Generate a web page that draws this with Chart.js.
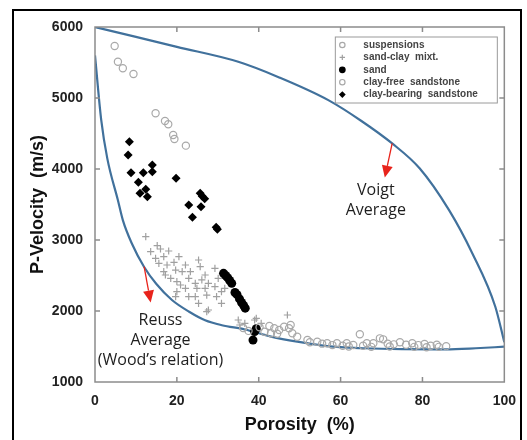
<!DOCTYPE html>
<html>
<head>
<meta charset="utf-8">
<script src="https://cdn.jsdelivr.net/npm/chart.js@4.4.1/dist/chart.umd.min.js"></script>
<style>
  html, body { margin: 0; padding: 0; background: #fff; }
</style>
</head>
<body>
<canvas id="vpChart" width="527" height="440"></canvas>
<script>
// ---- data (porosity %, P-velocity m/s) ----
const porosityTicks = [0, 20, 40, 60, 80, 100];
const velocityTicks = [1000, 2000, 3000, 4000, 5000, 6000];

const voigtCurve = [
  [0, 6000], [10, 5860], [20, 5720], [35, 5510], [45, 5290], [57, 4970],
  [65, 4680], [72.6, 4360], [79.3, 4010], [86.5, 3420], [92.2, 2810],
  [97.8, 2060], [100, 1560]
];

const reussCurve = [
  [0, 5600], [1.5, 4700], [3, 4150], [5.6, 3560], [6.8, 3280], [9, 2950],
  [12, 2620], [15, 2380], [18.8, 2155], [23, 1990], [26.9, 1870], [31, 1800],
  [36.6, 1740], [43, 1640], [49.4, 1568], [56.7, 1505], [65.6, 1475],
  [75, 1462], [85.7, 1460], [93, 1475], [100, 1497]
];

const suspensionPoints = [
  [36.2, 1760], [37.5, 1720], [40.2, 1770], [41.4, 1708], [42.6, 1789], [43.0, 1686],
  [43.8, 1756], [44.5, 1680], [45.0, 1732], [46.2, 1779], [47.4, 1756], [47.8, 1803],
  [48.2, 1686], [49.4, 1638], [51.9, 1592], [52.5, 1560], [54.3, 1568], [55.5, 1540],
  [56.7, 1545], [58, 1520], [59.1, 1545], [60.5, 1510], [61.5, 1545], [62, 1500],
  [63.1, 1521], [64.7, 1672], [65.5, 1510], [66.4, 1545], [67.5, 1495], [68.0, 1545],
  [69.6, 1615], [70.4, 1601], [71.5, 1540], [72, 1500], [73, 1530], [74.5, 1560],
  [76, 1525], [77.5, 1545], [78, 1495], [79, 1520], [80.5, 1535], [81, 1490],
  [82, 1510], [83.5, 1525], [84, 1495], [85.8, 1505]
];

const sandClayPoints = [
  [12.4, 3047], [15.2, 2920], [13.6, 2835], [16.0, 2873], [18.0, 2845], [14.8, 2742],
  [16.8, 2765], [20.5, 2765], [15.6, 2672], [17.6, 2648], [19.3, 2686], [22.1, 2648],
  [25.3, 2718], [25.7, 2624], [16.8, 2554], [19.7, 2577], [21.3, 2554], [23.3, 2554],
  [26.9, 2507], [29.3, 2601], [18.5, 2460], [20.0, 2413], [20.9, 2366], [22.9, 2460],
  [24.5, 2390], [26.1, 2437], [27.7, 2390], [30.1, 2460], [20.0, 2272], [22.1, 2320],
  [24.9, 2320], [26.9, 2320], [29.3, 2343], [30.9, 2272], [22.9, 2202], [24.5, 2202],
  [27.3, 2225], [29.7, 2202], [31.7, 2320], [27.7, 2014], [17.2, 2507], [19.7, 2202],
  [25.3, 2108], [27.3, 1990], [30.9, 2108], [35.0, 1873], [36.6, 1827], [39.0, 1873],
  [40.6, 1827], [39.4, 1897], [47.0, 1944], [35.4, 1803]
];

const sandPoints = [
  [31.4, 2530], [31.9, 2500], [32.4, 2470], [32.9, 2430], [33.4, 2390], [34.2, 2260],
  [34.7, 2230], [35.3, 2170], [35.8, 2120], [36.3, 2080], [36.7, 2040], [39.4, 1750],
  [39.0, 1710], [38.6, 1590]
];

const clayFreePoints = [
  [4.8, 5732], [5.6, 5511], [6.8, 5418], [9.4, 5338], [14.8, 4785], [17.1, 4676],
  [17.9, 4630], [19.1, 4479], [19.4, 4423], [22.2, 4329]
];

const clayBearingPoints = [
  [8.4, 4385], [8.1, 4197], [8.8, 3948], [11.8, 3948], [14.0, 4056], [14.0, 3962],
  [10.6, 3813], [12.4, 3714], [11.0, 3657], [12.8, 3610], [19.8, 3869], [25.7, 3657],
  [26.2, 3615], [26.8, 3580], [22.9, 3493], [25.9, 3469], [23.8, 3320], [29.6, 3180],
  [29.9, 3150]
];

// annotation anchors (data units): arrow start, arrow tip, text centre
const voigtArrow = [[72.6, 4360], [70.8, 3880]];
const voigtLabel = { at: [68.6, 3694], lines: ['Voigt', 'Average'] };
const reussArrow = [[12.0, 2624], [13.6, 2120]];
const reussLabel = { at: [16.0, 1873], lines: ['Reuss', 'Average', '(Wood\u2019s relation)'] };

const toXY = pts => pts.map(p => ({ x: p[0], y: p[1] }));

const openCircle = {
  pointStyle: 'circle', pointRadius: 3.6, borderWidth: 1.2,
  borderColor: '#a9a9a9', backgroundColor: 'rgba(255,255,255,0)'
};

const datasets = [
  Object.assign({ label: 'suspensions', data: toXY(suspensionPoints) }, openCircle),
  {
    label: 'sand-clay  mixt.', data: toXY(sandClayPoints), pointStyle: 'cross',
    pointRadius: 3.6, borderWidth: 1.2, borderColor: '#a0a0a0', backgroundColor: '#a0a0a0'
  },
  {
    label: 'sand', data: toXY(sandPoints), pointStyle: 'circle',
    pointRadius: 4.5, borderWidth: 0, backgroundColor: '#000', borderColor: '#000'
  },
  Object.assign({ label: 'clay-free  sandstone', data: toXY(clayFreePoints) }, openCircle),
  {
    label: 'clay-bearing  sandstone', data: toXY(clayBearingPoints), pointStyle: 'rectRot',
    pointRadius: 4.5, borderWidth: 0, backgroundColor: '#000', borderColor: '#000'
  },
  {
    label: 'Voigt', data: toXY(voigtCurve), showLine: true, pointRadius: 0,
    borderColor: '#41719c', borderWidth: 2.2, cubicInterpolationMode: 'monotone', noLegend: true
  },
  {
    label: 'Reuss', data: toXY(reussCurve), showLine: true, pointRadius: 0,
    borderColor: '#41719c', borderWidth: 2.2, cubicInterpolationMode: 'monotone', noLegend: true
  }
];

function drawArrow(c, x0, y0, x1, y1) {
  const ang = Math.atan2(y1 - y0, x1 - x0);
  const head = 12, half = 5.5;
  c.strokeStyle = '#e8231b';
  c.fillStyle = '#e8231b';
  c.lineWidth = 1.3;
  c.beginPath();
  c.moveTo(x0, y0);
  c.lineTo(x1 - head * Math.cos(ang), y1 - head * Math.sin(ang));
  c.stroke();
  c.beginPath();
  c.moveTo(x1, y1);
  c.lineTo(x1 - head * Math.cos(ang) + half * Math.sin(ang), y1 - head * Math.sin(ang) - half * Math.cos(ang));
  c.lineTo(x1 - head * Math.cos(ang) - half * Math.sin(ang), y1 - head * Math.sin(ang) + half * Math.cos(ang));
  c.closePath();
  c.fill();
}

const decorations = {
  id: 'decorations',
  beforeDraw(chart) {
    const c = chart.ctx;
    c.save();
    c.fillStyle = '#fff';
    c.fillRect(0, 0, chart.width, chart.height);
    // outer figure frame
    c.strokeStyle = '#000';
    c.lineWidth = 2;
    c.beginPath();
    c.moveTo(13, chart.height);
    c.lineTo(13, 10);
    c.lineTo(521, 10);
    c.lineTo(521, chart.height);
    c.stroke();
    c.restore();
  },
  afterDatasetsDraw(chart) {
    const c = chart.ctx;
    const a = chart.chartArea;
    const xs = chart.scales.x, ys = chart.scales.y;
    c.save();

    // plot frame + inward ticks on all four sides
    c.strokeStyle = '#8c8c8c';
    c.lineWidth = 1.5;
    c.strokeRect(a.left, a.top, a.right - a.left, a.bottom - a.top);
    c.beginPath();
    porosityTicks.slice(1, -1).forEach(v => {
      const px = xs.getPixelForValue(v);
      c.moveTo(px, a.bottom); c.lineTo(px, a.bottom - 5);
      c.moveTo(px, a.top); c.lineTo(px, a.top + 5);
    });
    velocityTicks.slice(1, -1).forEach(v => {
      const py = ys.getPixelForValue(v);
      c.moveTo(a.left, py); c.lineTo(a.left + 5, py);
      c.moveTo(a.right, py); c.lineTo(a.right - 5, py);
    });
    c.stroke();

    // arrows and labels
    const P = p => [xs.getPixelForValue(p[0]), ys.getPixelForValue(p[1])];
    [[voigtArrow, voigtLabel], [reussArrow, reussLabel]].forEach(([arr, lab]) => {
      const s = P(arr[0]), t = P(arr[1]);
      drawArrow(c, s[0], s[1], t[0], t[1]);
      const ctr = P(lab.at);
      c.fillStyle = '#1e1e1e';
      c.font = '16px "Open Sans", sans-serif';
      c.textAlign = 'center';
      c.textBaseline = 'middle';
      lab.lines.forEach((ln, i) => c.fillText(ln, ctr[0], ctr[1] + i * 20));
    });

    // legend box (top-right, inside the plot)
    const items = chart.data.datasets.filter(d => !d.noLegend);
    const boxW = 162, rowH = 12.4;
    const bx = a.right - 7 - boxW, by = a.top + 10;
    const boxH = items.length * rowH + 4;
    c.strokeStyle = '#9a9a9a';
    c.lineWidth = 1;
    c.strokeRect(bx, by, boxW, boxH);
    c.font = 'bold 10px "Liberation Sans", Arial, sans-serif';
    c.textAlign = 'left';
    c.textBaseline = 'middle';
    items.forEach((d, i) => {
      const cy = by + 8 + i * rowH;
      c.fillStyle = d.backgroundColor;
      c.strokeStyle = d.borderColor;
      c.lineWidth = d.borderWidth;
      Chart.helpers.drawPoint(c, {
        pointStyle: d.pointStyle, radius: d.pointRadius * 0.75, rotation: 0,
        borderWidth: d.borderWidth
      }, bx + 7, cy);
      c.fillStyle = '#444';
      c.fillText(d.label, bx + 28, cy);
    });
    c.restore();
  }
};

const tickFont = { family: '"Liberation Sans", Arial, sans-serif', size: 14, weight: 'bold' };
const titleFont = { family: '"Liberation Sans", Arial, sans-serif', size: 18, weight: 'bold' };

new Chart(document.getElementById('vpChart').getContext('2d'), {
  type: 'scatter',
  data: { datasets },
  options: {
    responsive: false,
    animation: false,
    layout: { padding: { top: 27, right: 18, left: 0, bottom: 0 } },
    plugins: { legend: { display: false }, tooltip: { enabled: false } },
    scales: {
      x: {
        min: 0, max: 100,
        afterBuildTicks: s => { s.ticks = porosityTicks.map(v => ({ value: v })); },
        afterFit: s => { s.height = 58; },
        grid: { display: false, drawTicks: false },
        border: { display: false },
        ticks: { color: '#222', font: tickFont, padding: 11, maxRotation: 0 },
        title: { display: true, text: 'Porosity  (%)', color: '#111', font: titleFont, padding: { top: 0 } }
      },
      y: {
        min: 1000, max: 6000,
        afterBuildTicks: s => { s.ticks = velocityTicks.map(v => ({ value: v })); },
        afterFit: s => { s.width = 95; },
        grid: { display: false, drawTicks: false },
        border: { display: false },
        ticks: { color: '#222', font: tickFont, padding: 12, callback: v => String(v) },
        title: { display: true, text: 'P-Velocity  (m/s)', color: '#111', font: titleFont, padding: { top: 27 } }
      }
    }
  },
  plugins: [decorations]
});
</script>
</body>
</html>
